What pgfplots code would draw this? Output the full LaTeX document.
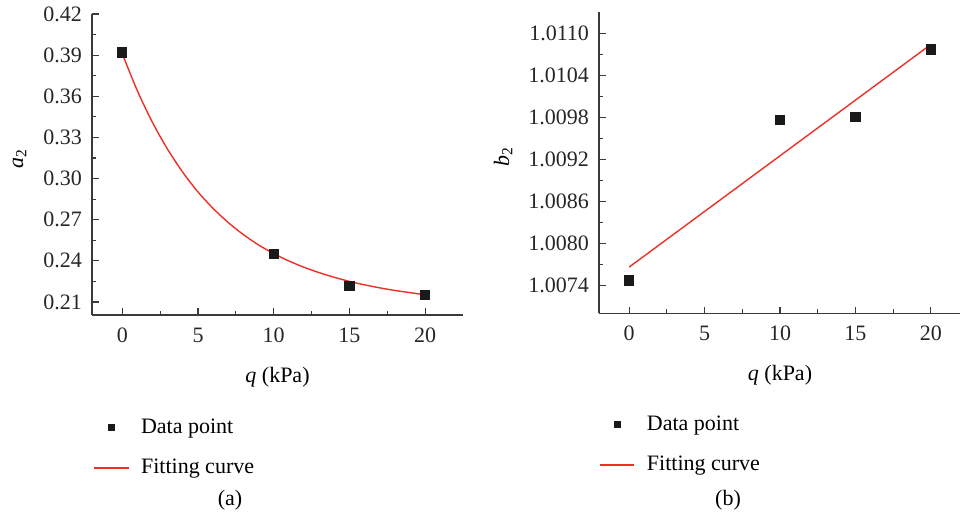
\documentclass[border=0pt]{standalone}
\usepackage{fontspec}
\setmainfont{Liberation Serif}
\usepackage{pgfplots}
\pgfplotsset{compat=1.18}

\definecolor{axgray}{RGB}{58,58,58}
\definecolor{fitred}{RGB}{236,48,40}
\definecolor{ptblack}{RGB}{26,26,26}

\pgfplotsset{
  panel/.style={
    scale only axis,
    axis x line*=bottom, axis y line*=left,
    axis line style={axgray, line width=0.6pt},
    every tick/.style={axgray, line width=0.6pt},
    tick align=inside,
    major tick length=3.3pt, minor tick length=2pt,
    minor x tick num=1, minor y tick num=1,
    font=\fontsize{11}{13}\selectfont,
    ticklabel style={text=black!85},
    /pgf/number format/assume math mode=true,
    xtick={0,5,10,15,20},
    xticklabel style={yshift=-3pt},
    yticklabel style={xshift=-1.5pt},
    x label style={at={(axis description cs:0.5,0)}, anchor=center, yshift=-31pt},
    legend style={draw=none, fill=none, inner sep=0pt,
      font=\fontsize{11}{13}\selectfont, row sep=7.5pt, column sep=4pt,
      legend cell align=left},
    legend image post style={mark size=1.6pt},
  },
  ptstyle/.style={only marks, mark=square*, mark size=2.3pt, ptblack},
  fitstyle/.style={fitred, line width=0.7pt, no marks},
}

\begin{document}
\begin{tikzpicture}
\path[use as bounding box] (0,0) rectangle (480pt,-258.5pt);

% (a)
\begin{axis}[panel,
  at={(46pt,-157.5pt)}, anchor=south west,
  width=185.5pt, height=150.5pt,
  xmin=-2, xmax=22.5, ymin=0.2005, ymax=0.42,
  ytick={0.21,0.24,0.27,0.30,0.33,0.36,0.39,0.42},
  yticklabel style={/pgf/number format/fixed, /pgf/number format/precision=2,
    /pgf/number format/fixed zerofill},
  xlabel={\textit{q} (kPa)},
  ylabel={\textit{a}\textsubscript{2}},
  y label style={at={(axis description cs:-0.195,0.52)}, anchor=center},
  legend style={at={(axis description cs:0.003,-0.33)}, anchor=north west},
]
\addplot[ptstyle] coordinates {(0,0.392) (10,0.245) (15,0.222) (20,0.215)};
\addlegendentry{Data point}
\addplot[fitstyle, smooth] coordinates {
  (0,0.3910) (1,0.3639) (2,0.3408) (3,0.3212) (4,0.3045) (5,0.2902)
  (6,0.2782) (7,0.2679) (8,0.2591) (9,0.2516) (10,0.2453) (11,0.2399)
  (12,0.2353) (13,0.2314) (14,0.2280) (15,0.2250) (16,0.2225) (17,0.2203)
  (18,0.2184) (19,0.2168) (20,0.2152)};
\addlegendentry{Fitting curve}
\end{axis}

% (b)
\begin{axis}[panel,
  at={(299.5pt,-156.65pt)}, anchor=south west,
  width=181pt, height=150.5pt,
  xmin=-2, xmax=22, ymin=1.0070, ymax=1.0113,
  ytick={1.0074,1.0080,1.0086,1.0092,1.0098,1.0104,1.0110},
  yticklabel style={/pgf/number format/fixed, /pgf/number format/precision=4,
    /pgf/number format/fixed zerofill},
  xlabel={\textit{q} (kPa)},
  ylabel={\textit{b}\textsubscript{2}},
  y label style={at={(axis description cs:-0.265,0.52)}, anchor=center},
  legend style={at={(axis description cs:0.0,-0.325)}, anchor=north west},
]
\addplot[ptstyle] coordinates {(0,1.00747) (10,1.00976) (15,1.00981) (20,1.01077)};
\addlegendentry{Data point}
\addplot[fitstyle] coordinates {(0,1.00766) (20,1.01084)};
\addlegendentry{Fitting curve}
\end{axis}

\node[font=\fontsize{11}{13}\selectfont] at (115pt,-250pt) {(a)};
\node[font=\fontsize{11}{13}\selectfont] at (364pt,-250pt) {(b)};
\end{tikzpicture}
\end{document}
